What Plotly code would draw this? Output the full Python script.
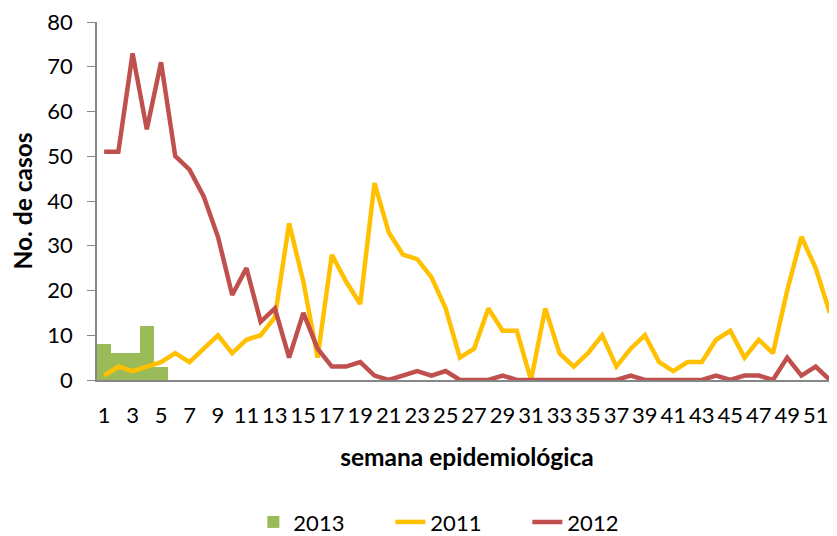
import plotly.graph_objects as go

weeks = list(range(1, 53))
weeks_2013 = [1, 2, 3, 4, 5]
cases_2013 = [8, 6, 6, 12, 3]
cases_2011 = [1, 3, 2, 3, 4, 6, 4, 7, 10, 6, 9, 10, 14, 35, 22, 5, 28, 22, 17, 44,
              33, 28, 27, 23, 16, 5, 7, 16, 11, 11, 0, 16, 6, 3, 6, 10, 3, 7, 10, 4,
              2, 4, 4, 9, 11, 5, 9, 6, 20, 32, 25, 15]
cases_2012 = [51, 51, 73, 56, 71, 50, 47, 41, 32, 19, 25, 13, 16, 5, 15, 7, 3, 3, 4, 1,
              0, 1, 2, 1, 2, 0, 0, 0, 1, 0, 0, 0, 0, 0, 0, 0, 0, 1, 0, 0,
              0, 0, 0, 1, 0, 1, 1, 0, 5, 1, 3, 0]
tick_labels = [str(w) for w in range(1, 53, 2)]

FONT = "Lato"
fig = go.Figure()
fig.add_trace(go.Bar(x=weeks_2013, y=cases_2013, name="2013",
                     marker=dict(color="#9BBB59", line=dict(width=0))))
fig.add_trace(go.Scatter(x=weeks, y=cases_2011, name="2011", mode="lines",
                         line=dict(color="#FFC000", width=4.5)))
fig.add_trace(go.Scatter(x=weeks, y=cases_2012, name="2012", mode="lines",
                         line=dict(color="#C0504D", width=4.5)))

fig.update_layout(
    width=829, height=528,
    margin=dict(l=89, r=0, t=14, b=156, autoexpand=False),
    paper_bgcolor="white", plot_bgcolor="white",
    bargap=0,
    font=dict(family=FONT, size=22, color="black"),
    legend=dict(orientation="h", x=0.489, xanchor="center", y=-0.397, yanchor="middle",
                font=dict(size=22), traceorder="normal",
                entrywidth=92, entrywidthmode="pixels"),
    xaxis=dict(range=[0.5, 52.5], tickmode="array",
               tickvals=list(range(1, 53, 2)), ticktext=tick_labels,
               tickangle=0, ticks="", showline=True, linecolor="#868686",
               linewidth=1.5, showgrid=False, zeroline=False,
               ticklabelstandoff=15, ticklabeloverflow="allow", automargin=False,
               title=dict(text="<b>semana epidemiológica</b>", standoff=22,
                          font=dict(size=24.5))),
    yaxis=dict(range=[0, 80], dtick=10, ticks="outside", ticklen=8,
               tickcolor="#868686", showline=True, linecolor="#868686",
               linewidth=1.5, showgrid=False, zeroline=False,
               ticklabelstandoff=10, ticklabeloverflow="allow", automargin=False,
               title=dict(text="<b>No. de casos</b>", standoff=22,
                          font=dict(size=24.5))),
)

fig.write_html("out.html")
